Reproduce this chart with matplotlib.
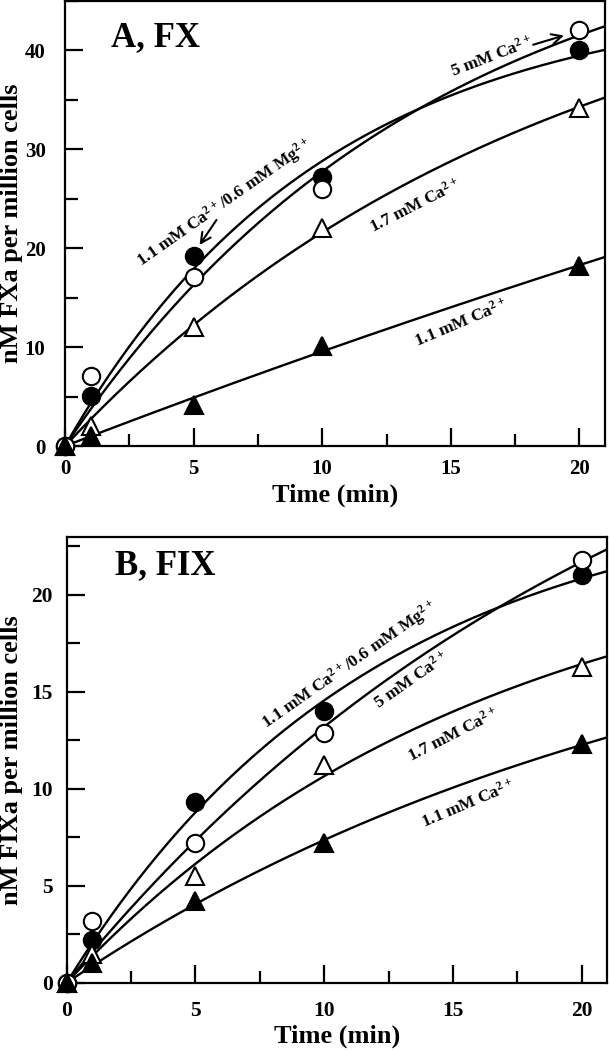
import numpy as np
import matplotlib
matplotlib.use("Agg")
import matplotlib.pyplot as plt
from matplotlib.ticker import MultipleLocator

plt.rcParams['font.family'] = ['Liberation Serif', 'DejaVu Serif']
plt.rcParams['font.weight'] = 'bold'
plt.rcParams['mathtext.fontset'] = 'custom'
plt.rcParams['mathtext.bf'] = 'Liberation Serif:bold'
plt.rcParams['mathtext.rm'] = 'Liberation Serif:bold'
plt.rcParams['mathtext.default'] = 'bf'

# ---- data ----
time_min = [0, 1, 5, 10, 20]

# Panel A, FX
fx_ca11_mg06 = [0, 5.1, 19.2, 27.2, 40.0]   # filled circles
fx_ca5 = [0, 7.1, 17.1, 26.0, 42.1]         # open circles
fx_ca17 = [0, 2.0, 12.0, 22.0, 34.2]        # open triangles
fx_ca11 = [0, 1.0, 4.2, 10.1, 18.2]         # filled triangles

# Panel B, FIX
fix_ca11_mg06 = [0, 2.2, 9.3, 14.0, 21.0]
fix_ca5 = [0, 3.2, 7.2, 12.9, 21.8]
fix_ca17 = [0, 1.5, 5.5, 11.2, 16.3]
fix_ca11 = [0, 1.0, 4.2, 7.2, 12.3]

x_ticks = [0, 5, 10, 15, 20]
yticks_A = [0, 10, 20, 30, 40]
yticks_B = [0, 5, 10, 15, 20]


def fit_curve(t, y):
    """least-squares fit of y = A(1-exp(-k t)) to the measured points"""
    t = np.asarray(t, float)
    y = np.asarray(y, float)
    best = None
    for k in np.linspace(0.002, 0.6, 6000):
        f = 1 - np.exp(-k * t)
        A = f.dot(y) / f.dot(f)
        sse = np.sum((A * f - y) ** 2)
        if best is None or sse < best[0]:
            best = (sse, A, k)
    _, A, k = best
    tt = np.linspace(0, 21, 300)
    return tt, A * (1 - np.exp(-k * tt))


fig = plt.figure(figsize=(6.11, 10.5), dpi=100)
axA = fig.add_axes([0.1064, 0.5752, 0.884, 0.4238])
axB = fig.add_axes([0.1092, 0.0641, 0.885, 0.4248])

series_style = [
    dict(marker='o', mfc='black', ms=12.5),
    dict(marker='o', mfc='white', ms=12.5),
    dict(marker='^', mfc='white', ms=13.5),
    dict(marker='^', mfc='black', ms=13.5),
]


def draw(ax, series, ylim, yticks, yminor, ylabel, title, title_pos,
         xpad, ypad, tick_fs):
    for y in series:
        tt, yy = fit_curve(time_min, y)
        ax.plot(tt, yy, color='black', lw=1.7, zorder=2)
    for y, st in zip(series, series_style):
        ax.plot(time_min, y, ls='none', marker=st['marker'], ms=st['ms'],
                mfc=st['mfc'], mec='black', mew=1.5, zorder=3, clip_on=False)
    ax.set_xlim(0, 21)
    ax.set_ylim(*ylim)
    ax.set_xticks(x_ticks)
    ax.xaxis.set_minor_locator(MultipleLocator(2.5))
    ax.set_yticks(yticks)
    ax.yaxis.set_minor_locator(MultipleLocator(yminor))
    ax.tick_params(which='both', direction='in', top=False, right=False, width=1.6)
    ax.tick_params(which='major', length=13)
    ax.tick_params(which='minor', length=9)
    ax.tick_params(axis='x', which='major', pad=xpad, labelsize=tick_fs)
    ax.tick_params(axis='y', which='major', pad=ypad, labelsize=tick_fs)
    for lab in ax.get_xticklabels() + ax.get_yticklabels():
        lab.set_fontweight('bold')
    for sp in ax.spines.values():
        sp.set_linewidth(1.6)
    ax.set_xlabel('Time (min)', fontsize=19, fontweight='bold', va='top')
    ax.set_ylabel(ylabel, fontsize=19, fontweight='bold')
    ax.text(title_pos[0], title_pos[1], title, transform=ax.transAxes,
            fontsize=25, fontweight='bold', ha='center', va='center')


draw(axA, [fx_ca11_mg06, fx_ca5, fx_ca17, fx_ca11], (0, 45), yticks_A, 5,
     'nM FXa per million cells', 'A, FX', (0.167, 0.919), 9, 14, 15)
axA.xaxis.set_label_coords(0.5, -0.085)
axA.yaxis.set_label_coords(-0.078, 0.5)
draw(axB, [fix_ca11_mg06, fix_ca5, fix_ca17, fix_ca11], (0, 23), yticks_B, 2.5,
     'nM FIXa per million cells', 'B, FIX', (0.182, 0.935), 13, 10, 15.5)
axB.xaxis.set_label_coords(0.5, -0.095)
axB.yaxis.set_label_coords(-0.080, 0.5)

ca = 'Ca$^{2+}$'
mg = 'Mg$^{2+}$'
fs = 12.5

# Panel A annotations
axA.text(6.2, 24.6, '1.1 mM ' + ca + '/0.6 mM ' + mg, fontsize=fs, rotation=35,
         ha='center', va='center', fontweight='bold')
axA.annotate('', xy=(5.17, 20.1), xytext=(5.95, 23.1),
             arrowprops=dict(arrowstyle='->', lw=1.5, color='black',
                             mutation_scale=18))
axA.text(16.6, 39.4, '5 mM ' + ca, fontsize=fs, rotation=21,
         ha='center', va='center', fontweight='bold')
axA.annotate('', xy=(19.5, 41.6), xytext=(18.1, 40.5),
             arrowprops=dict(arrowstyle='->', lw=1.5, color='black',
                             mutation_scale=18))
axA.text(13.6, 24.3, '1.7 mM ' + ca, fontsize=fs, rotation=27,
         ha='center', va='center', fontweight='bold')
axA.text(15.4, 12.5, '1.1 mM ' + ca, fontsize=fs, rotation=23,
         ha='center', va='center', fontweight='bold')

# Panel B annotations
axB.text(11.0, 16.4, '1.1 mM ' + ca + '/0.6 mM ' + mg, fontsize=fs, rotation=35,
         ha='center', va='center', fontweight='bold')
axB.text(13.4, 15.6, '5 mM ' + ca, fontsize=fs, rotation=35,
         ha='center', va='center', fontweight='bold')
axB.text(15.0, 12.8, '1.7 mM ' + ca, fontsize=fs, rotation=27,
         ha='center', va='center', fontweight='bold')
axB.text(15.6, 9.2, '1.1 mM ' + ca, fontsize=fs, rotation=23,
         ha='center', va='center', fontweight='bold')

fig.savefig('out.png', dpi=100)
